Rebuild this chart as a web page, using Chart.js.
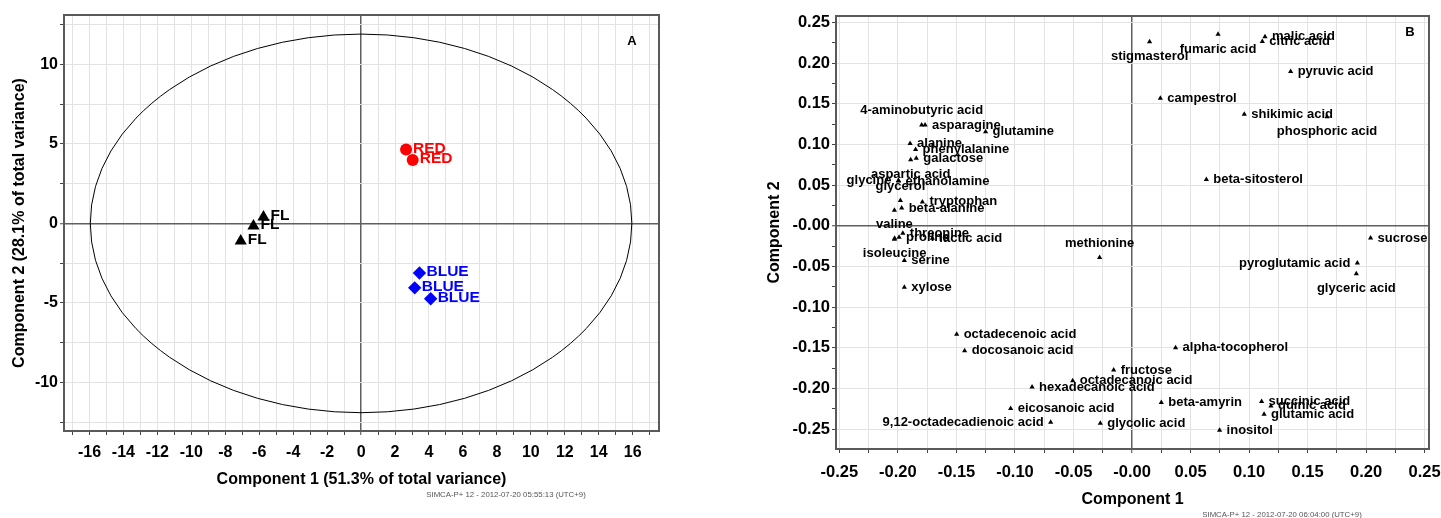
<!DOCTYPE html>
<html>
<head>
<meta charset="utf-8">
<title>PCA scores and loadings</title>
<script src="https://cdn.jsdelivr.net/npm/chart.js"></script>
<style>
    html, body { margin: 0; padding: 0; background: #fff; }
    #wrap { position: relative; width: 1441px; height: 518px; overflow: hidden; }
    #boxA { position: absolute; left: 0; top: 0; width: 730px; height: 518px; }
    #boxB { position: absolute; left: 730px; top: 0; width: 740px; height: 518px; }
</style>
</head>
<body>
<div id="wrap">
    <div id="boxA"><canvas id="scoreChart"></canvas></div>
    <div id="boxB"><canvas id="loadingChart"></canvas></div>
</div>
<script>
// panel A - scores
var flX = [-5.75, -6.34, -7.09];
var flY = [0.40, -0.17, -1.11];
var redX = [2.65, 3.04];
var redY = [4.65, 3.98];
var blueX = [3.44, 3.16, 4.10];
var blueY = [-3.12, -4.05, -4.74];
var scoreXTickLabels = [-16, -14, -12, -10, -8, -6, -4, -2, 0, 2, 4, 6, 8, 10, 12, 14, 16];
var scoreYTickLabels = [-10, -5, 0, 5, 10];
var t2HalfAxes = [15.95, 11.9]; // Hotelling T2 ellipse

// panel B - loadings
var metabolites = [
    'stigmasterol', 'fumaric acid', 'malic acid', 'citric acid', 'pyruvic acid',
    'campestrol', 'shikimic acid', 'phosphoric acid', 'beta-sitosterol', 'sucrose',
    'pyroglutamic acid', 'glyceric acid', 'methionine', 'alpha-tocopherol', 'fructose',
    'octadecanoic acid', 'hexadecanoic acid', 'beta-amyrin', 'succinic acid', 'quinic acid',
    'glutamic acid', 'inositol', 'glycolic acid', '9,12-octadecadienoic acid', 'eicosanoic acid',
    'octadecenoic acid', 'docosanoic acid', 'xylose', 'serine', 'isoleucine',
    'valine', 'threonine', 'proline', 'lactic acid', 'tryptophan',
    'beta-alanine', 'glycerol', '', 'glycine', 'ethanolamine',
    'aspartic acid', 'galactose', 'alanine', 'phenylalanine', 'asparagine',
    '4-aminobutyric acid', 'glutamine'
];
var loadP1 = [
    0.0150, 0.0735, 0.1136, 0.1113, 0.1355,
    0.0242, 0.0959, 0.1666, 0.0635, 0.2038,
    0.1925, 0.1916, -0.0277, 0.0372, -0.0157,
    -0.0507, -0.0854, 0.0250, 0.1107, 0.1187,
    0.1128, 0.0748, -0.0271, -0.0695, -0.1037,
    -0.1498, -0.1430, -0.1945, -0.1945, -0.2028,
    -0.2030, -0.1958, -0.1990, -0.1706, -0.1791,
    -0.1968, -0.1979, -0.2030, -0.1996, -0.1994,
    -0.1891, -0.1843, -0.1896, -0.1849, -0.1768,
    -0.1797, -0.1251
];
var loadP2 = [
    0.2261, 0.2356, 0.2323, 0.2266, 0.1896,
    0.1567, 0.1370, 0.1342, 0.0569, -0.0150,
    -0.0458, -0.0590, -0.0389, -0.1498, -0.1773,
    -0.1905, -0.1982, -0.2171, -0.2159, -0.2213,
    -0.2315, -0.2512, -0.2426, -0.2414, -0.2245,
    -0.1333, -0.1535, -0.0754, -0.0426, -0.0152,
    -0.0165, -0.0091, -0.0140, -0.0152, 0.0294,
    0.0220, 0.0310, 0.0190, 0.0556, 0.0550,
    0.0812, 0.0831, 0.1012, 0.0939, 0.1238,
    0.1238, 0.1157
];
var loadingTickValues = [-0.25, -0.20, -0.15, -0.10, -0.05, 0, 0.05, 0.10, 0.15, 0.20, 0.25];
var loadingTickText = ['-0.25', '-0.20', '-0.15', '-0.10', '-0.05', '-0.00', '0.05', '0.10', '0.15', '0.20', '0.25'];

// where a label sits when it is not to the right of its point
var labelSide = {
    'stigmasterol': 'below', 'fumaric acid': 'below', 'phosphoric acid': 'below',
    'glyceric acid': 'below', 'pyroglutamic acid': 'left', 'methionine': 'above',
    '9,12-octadecadienoic acid': 'left', 'isoleucine': 'below', 'valine': 'above',
    'glycerol': 'above', 'glycine': 'left', 'aspartic acid': 'below',
    '4-aminobutyric acid': 'above'
};

var FONT = '"Liberation Sans", Arial, sans-serif';

function toPoints(xs, ys) {
    var pts = [];
    for (var i = 0; i < xs.length; i++) pts.push({ x: xs[i], y: ys[i] });
    return pts;
}
function isZero(v) { return Math.abs(v) < 1e-9; }
function onStep(v, step) {
    var r = v / step;
    return Math.abs(r - Math.round(r)) < 1e-6;
}
function findText(v, values, texts) {
    for (var i = 0; i < values.length; i++) {
        if (Math.abs(values[i] - v) < 1e-6) return texts[i];
    }
    return '';
}

// frame round the plot area
var framePlugin = {
    id: 'frame',
    afterDatasetsDraw: function (chart) {
        var a = chart.chartArea, ctx = chart.ctx;
        ctx.save();
        ctx.strokeStyle = '#5a5a5a';
        ctx.lineWidth = 2;
        ctx.strokeRect(a.left, a.top, a.right - a.left, a.bottom - a.top);
        ctx.restore();
    }
};

// panel letter and SIMCA stamp
var stampPlugin = {
    id: 'stamp',
    afterDraw: function (chart, args, opt) {
        var a = chart.chartArea, ctx = chart.ctx;
        ctx.save();
        ctx.fillStyle = '#000';
        ctx.font = 'bold 13px ' + FONT;
        ctx.textAlign = 'center';
        ctx.textBaseline = 'middle';
        ctx.fillText(opt.letter, a.right - opt.letterDx, a.top + opt.letterDy);
        ctx.fillStyle = '#555';
        ctx.font = '7.8px ' + FONT;
        ctx.fillText(opt.footer, opt.footerX, opt.footerY);
        ctx.restore();
    }
};

var ellipsePlugin = {
    id: 't2ellipse',
    beforeDatasetsDraw: function (chart) {
        var xs = chart.scales.x, ys = chart.scales.y, ctx = chart.ctx, a = chart.chartArea;
        var cx = xs.getPixelForValue(0), cy = ys.getPixelForValue(0);
        var rx = xs.getPixelForValue(t2HalfAxes[0]) - cx;
        var ry = cy - ys.getPixelForValue(t2HalfAxes[1]);
        ctx.save();
        ctx.beginPath();
        ctx.rect(a.left, a.top, a.right - a.left, a.bottom - a.top);
        ctx.clip();
        ctx.beginPath();
        ctx.ellipse(cx, cy, rx, ry, 0, 0, Math.PI * 2);
        ctx.strokeStyle = '#000';
        ctx.lineWidth = 1;
        ctx.stroke();
        ctx.restore();
    }
};

var scoreLabelPlugin = {
    id: 'scoreLabels',
    afterDatasetsDraw: function (chart) {
        var ctx = chart.ctx;
        ctx.save();
        ctx.font = 'bold 15.5px ' + FONT;
        ctx.textAlign = 'left';
        ctx.textBaseline = 'middle';
        chart.data.datasets.forEach(function (ds, i) {
            ctx.fillStyle = ds.backgroundColor;
            chart.getDatasetMeta(i).data.forEach(function (pt) {
                ctx.fillText(ds.label, pt.x + 7, pt.y - 1);
            });
        });
        ctx.restore();
    }
};

var loadingLabelPlugin = {
    id: 'loadingLabels',
    afterDatasetsDraw: function (chart) {
        var ctx = chart.ctx;
        ctx.save();
        ctx.font = 'bold 13px ' + FONT;
        ctx.fillStyle = '#000';
        ctx.textBaseline = 'middle';
        chart.getDatasetMeta(0).data.forEach(function (pt, i) {
            var name = metabolites[i];
            if (!name) return;
            var side = labelSide[name] || 'right';
            if (side == 'right') {
                ctx.textAlign = 'left';
                ctx.fillText(name, pt.x + 7, pt.y);
            } else if (side == 'left') {
                ctx.textAlign = 'right';
                ctx.fillText(name, pt.x - 7, pt.y);
            } else if (side == 'above') {
                ctx.textAlign = 'center';
                ctx.fillText(name, pt.x, pt.y - 14.5);
            } else {
                ctx.textAlign = 'center';
                ctx.fillText(name, pt.x, pt.y + 15);
            }
        });
        ctx.restore();
    }
};

function axisGrid(minorVisible) {
    return {
        color: function (c) {
            if (!c.tick) return '#e3e3e3';
            if (isZero(c.tick.value)) return '#5f5f5f';
            return minorVisible(c.tick.value) ? '#e3e3e3' : 'rgba(0,0,0,0)';
        },
        lineWidth: function (c) {
            return c.tick && isZero(c.tick.value) ? 1.5 : 1;
        },
        tickColor: '#444',
        tickWidth: 1,
        tickLength: 4
    };
}

function tickOpts(step, font, pad, fmt) {
    return {
        stepSize: step,
        includeBounds: false,
        autoSkip: false,
        maxRotation: 0,
        minRotation: 0,
        padding: pad,
        color: '#000',
        font: { family: FONT, size: font, weight: 'bold' },
        callback: fmt
    };
}

function drawScores() {
    new Chart('scoreChart', {
        type: 'scatter',
        data: {
            datasets: [
                { label: 'FL', data: toPoints(flX, flY), pointStyle: 'triangle', pointRadius: 7, backgroundColor: '#000', borderWidth: 0 },
                { label: 'RED', data: toPoints(redX, redY), pointStyle: 'circle', pointRadius: 6, backgroundColor: '#ff0000', borderWidth: 0 },
                { label: 'BLUE', data: toPoints(blueX, blueY), pointStyle: 'rectRot', pointRadius: 6.7, backgroundColor: '#0000ff', borderWidth: 0 }
            ]
        },
        options: {
            responsive: true,
            maintainAspectRatio: false,
            animation: false,
            devicePixelRatio: 1,
            layout: { padding: { left: 0, top: 15, right: 71, bottom: 0 } },
            plugins: {
                legend: { display: false },
                tooltip: { enabled: false },
                stamp: { letter: 'A', letterDx: 27, letterDy: 26, footer: 'SIMCA-P+ 12 - 2012-07-20 05:55:13 (UTC+9)', footerX: 506, footerY: 495 }
            },
            scales: {
                x: {
                    type: 'linear', min: -17.5, max: 17.55,
                    ticks: tickOpts(1, 16, 8, function (v) {
                        return scoreXTickLabels.indexOf(Math.round(v)) >= 0 && onStep(v, 1) ? String(Math.round(v)) : '';
                    }),
                    grid: axisGrid(function () { return true; }),
                    border: { display: false },
                    title: { display: true, text: 'Component 1 (51.3% of total variance)', color: '#000', font: { family: FONT, size: 16, weight: 'bold' }, padding: { top: 0, bottom: 29 } },
                    afterFit: function (s) { s.height = 87; }
                },
                y: {
                    type: 'linear', min: -13.05, max: 13.1,
                    ticks: tickOpts(2.5, 16, 2, function (v) {
                        return onStep(v, 5) && scoreYTickLabels.indexOf(Math.round(v)) >= 0 ? String(Math.round(v)) : '';
                    }),
                    grid: axisGrid(function () { return true; }),
                    border: { display: false },
                    title: { display: true, text: 'Component 2 (28.1% of total variance)', color: '#000', font: { family: FONT, size: 16, weight: 'bold' }, padding: { top: 10, bottom: 0 } },
                    afterFit: function (s) { s.width = 64; }
                }
            }
        },
        plugins: [ellipsePlugin, framePlugin, scoreLabelPlugin, stampPlugin]
    });
}

function drawLoadings() {
    new Chart('loadingChart', {
        type: 'scatter',
        data: {
            datasets: [{
                label: 'loadings',
                data: toPoints(loadP1, loadP2),
                pointStyle: 'triangle',
                pointRadius: 3,
                backgroundColor: '#000',
                borderWidth: 0
            }]
        },
        options: {
            responsive: true,
            maintainAspectRatio: false,
            animation: false,
            devicePixelRatio: 1,
            layout: { padding: { left: 0, top: 16, right: 41, bottom: 0 } },
            plugins: {
                legend: { display: false },
                tooltip: { enabled: false },
                stamp: { letter: 'B', letterDx: 19, letterDy: 16, footer: 'SIMCA-P+ 12 - 2012-07-20 06:04:00 (UTC+9)', footerX: 552, footerY: 515 }
            },
            scales: {
                x: {
                    type: 'linear', min: -0.2529, max: 0.2537,
                    ticks: tickOpts(0.025, 16.5, 10, function (v) {
                        return findText(v, loadingTickValues, loadingTickText);
                    }),
                    grid: axisGrid(function () { return true; }),
                    border: { display: false },
                    title: { display: true, text: 'Component 1', color: '#000', font: { family: FONT, size: 16, weight: 'bold' }, padding: { top: 0, bottom: 9 } },
                    afterFit: function (s) { s.height = 69; }
                },
                y: {
                    type: 'linear', min: -0.2743, max: 0.2579,
                    ticks: tickOpts(0.025, 16.5, 2, function (v) {
                        return findText(v, loadingTickValues, loadingTickText);
                    }),
                    grid: axisGrid(function (v) { return onStep(v, 0.05); }),
                    border: { display: false },
                    title: { display: true, text: 'Component 2', color: '#000', font: { family: FONT, size: 16, weight: 'bold' }, padding: { top: 35, bottom: 0 } },
                    afterFit: function (s) { s.width = 106; }
                }
            }
        },
        plugins: [framePlugin, loadingLabelPlugin, stampPlugin]
    });
}

drawScores();
drawLoadings();
</script>
</body>
</html>
